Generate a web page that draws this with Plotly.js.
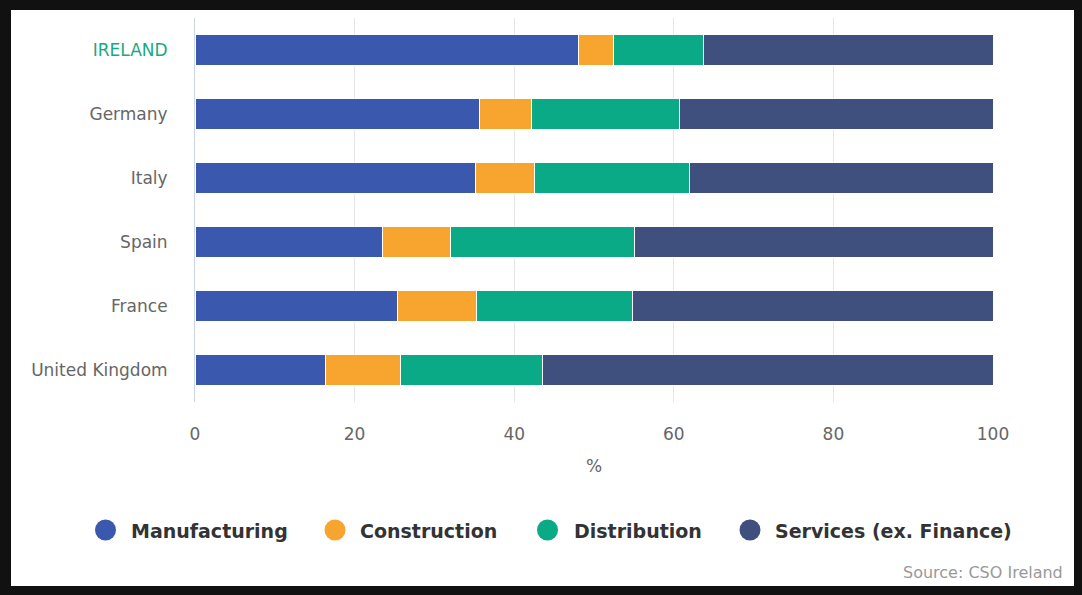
<!DOCTYPE html>
<html>
<head>
<meta charset="utf-8">
<script src="https://cdn.plot.ly/plotly-3.0.1.min.js"></script>
<style>
html, body { margin:0; padding:0; background:#111111; width:1082px; height:595px; overflow:hidden; }
#chart { position:absolute; left:11px; top:10px; width:1063px; height:576px; background:#ffffff; }
</style>
</head>
<body>
<div id="chart"></div>
<script>
const countries = ["IRELAND", "Germany", "Italy", "Spain", "France", "United Kingdom"];
const manufacturing = [48.0, 35.6, 35.2, 23.5, 25.4, 16.4];
const construction = [4.4, 6.6, 7.3, 8.5, 9.9, 9.3];
const distribution = [11.3, 18.5, 19.5, 23.1, 19.5, 17.8];
const services = [36.3, 39.3, 38.0, 44.9, 45.2, 56.5];
const seriesNames = ["Manufacturing", "Construction", "Distribution", "Services (ex. Finance)"];
const seriesColors = ["#3a58ae", "#f7a52f", "#0aaa86", "#3f4f7e"];
const xTicks = [0, 20, 40, 60, 80, 100];

// layout geometry (pixels inside the chart div)
const M = { l: 184, r: 81, t: 8, b: 184 };
const W = 1063, H = 576;
const PW = W - M.l - M.r, PH = H - M.t - M.b;
const px2x = px => (px - 11 - M.l) / PW;          // page px -> paper x
const py2y = py => (H - M.b - (py - 10)) / PH;    // page py -> paper y

const allValues = [manufacturing, construction, distribution, services];
const traces = [];
allValues.forEach((vals, i) => {
  traces.push({
    type: "bar", orientation: "h",
    x: vals, y: countries,
    name: seriesNames[i],
    marker: { color: seriesColors[i], line: { color: "#ffffff", width: 1 } },
    width: 0.48,
    showlegend: false,
    hoverinfo: "x+y+name"
  });
});

const tickText = countries.map((c, i) => i === 0 ? '<span style="color:#1aa883">' + c + '</span>' : c);

// custom legend (circle + bold label), placed like the reference
const legendCircleX = [105.5, 335, 547.5, 750];
const legendTextX = [129, 358, 572, 773];
const legendY = 530, legendR = 10.5;
const shapes = [], annotations = [];
seriesNames.forEach((n, i) => {
  shapes.push({
    type: "circle", xref: "paper", yref: "paper",
    x0: px2x(legendCircleX[i] - legendR), x1: px2x(legendCircleX[i] + legendR),
    y0: py2y(legendY + legendR), y1: py2y(legendY - legendR),
    fillcolor: seriesColors[i], line: { width: 0 }
  });
  annotations.push({
    text: "<b>" + n + "</b>", xref: "paper", yref: "paper",
    x: px2x(legendTextX[i]), y: py2y(legendY + 1), xanchor: "left", yanchor: "middle",
    showarrow: false, font: { size: 19, color: "#333333", family: "DejaVu Sans, sans-serif" }
  });
});
annotations.push({
  text: "Source: CSO Ireland", xref: "paper", yref: "paper",
  x: px2x(1065), y: py2y(572), xanchor: "right", yanchor: "middle",
  showarrow: false, font: { size: 16, color: "#999999" }
});

const layout = {
  width: W, height: H,
  paper_bgcolor: "#ffffff", plot_bgcolor: "#ffffff",
  margin: M,
  barmode: "stack",
  showlegend: false,
  font: { family: "DejaVu Sans, sans-serif", color: "#666666" },
  xaxis: {
    range: [0, 100], tickvals: xTicks, ticktext: xTicks.map(String),
    showgrid: true, gridcolor: "#e6e6e6", gridwidth: 1,
    zeroline: false, showline: false, ticks: "",
    tickfont: { size: 17, color: "#666666" },
    ticklabelstandoff: 20,
    title: { text: "%", font: { size: 17, color: "#666666" }, standoff: 17 },
    fixedrange: true
  },
  yaxis: {
    type: "category", categoryorder: "array", categoryarray: countries,
    autorange: "reversed",
    tickvals: countries, ticktext: tickText,
    showline: true, linecolor: "#ccd6eb", linewidth: 1,
    showgrid: false, zeroline: false, ticks: "",
    tickfont: { size: 17, color: "#666666" },
    ticklabelstandoff: 23,
    fixedrange: true
  },
  shapes: shapes,
  annotations: annotations
};

Plotly.newPlot("chart", traces, layout, { displayModeBar: false });
</script>
</body>
</html>
